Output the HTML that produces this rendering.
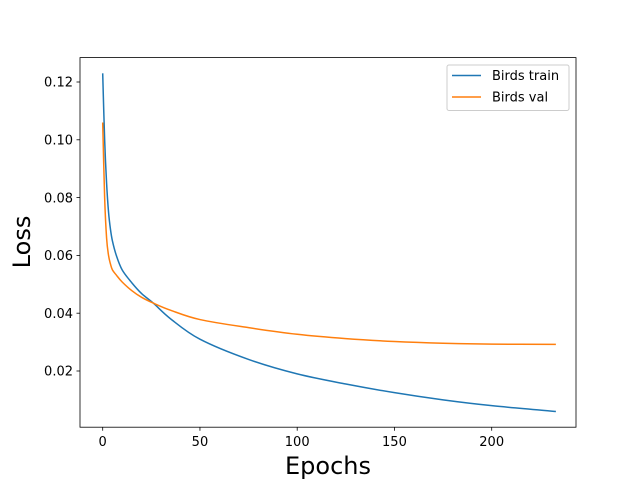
<!DOCTYPE html>
<html><head><meta charset="utf-8"><style>
body{margin:0;background:#fff}
svg{font-family:"DejaVu Sans","Liberation Sans",sans-serif}
</style></head><body>
<svg id="chart" width="640" height="480" viewBox="0 0 640 480">
<rect width="640" height="480" fill="#fff"/>
<g id="plot"></g>
<rect x="80" y="57.6" width="496" height="369.6" fill="none" stroke="#000" stroke-width="0.8"/>
<text x="328" y="474" font-size="24" text-anchor="middle">Epochs</text>
<text transform="translate(30,242) rotate(-90)" font-size="24" text-anchor="middle">Loss</text>
<g>
<rect x="447" y="65" width="122" height="45.5" rx="2" fill="#fff" fill-opacity="0.8" stroke="#ccc" stroke-width="1"/>
<line x1="452" y1="75.5" x2="481" y2="75.5" stroke="#1f77b4" stroke-width="1.5"/>
<text x="492" y="80" font-size="13">Birds train</text>
<line x1="452" y1="97" x2="481" y2="97" stroke="#ff7f0e" stroke-width="1.5"/>
<text x="492" y="101.5" font-size="13">Birds val</text>
</g>
</svg>
<script>
const epochs = [0,1,2,3,4,5,7,10,15,20,26,35,50,75,100,125,150,175,200,233];
const trainLoss = [0.123,0.100,0.085,0.075,0.069,0.065,0.060,0.055,0.0505,0.0468,0.0435,0.038,0.031,0.024,0.019,0.0155,0.0125,0.010,0.008,0.006];
const valLoss = [0.106,0.080,0.066,0.060,0.057,0.055,0.0532,0.0508,0.0478,0.0455,0.0435,0.041,0.0378,0.0350,0.0327,0.0312,0.0302,0.0296,0.0293,0.0292];
const xTicks = [0,50,100,150,200];
const yTicks = [0.02,0.04,0.06,0.08,0.10,0.12];
const yTickLabels = ["0.02","0.04","0.06","0.08","0.10","0.12"];

const NS="http://www.w3.org/2000/svg";
const g=document.getElementById('plot');
const X=v=>102.7+v*1.945;
const Y=v=>371-(v-0.02)*2890;
function mk(tag,attrs){const e=document.createElementNS(NS,tag);for(const k in attrs)e.setAttribute(k,attrs[k]);g.appendChild(e);return e;}
xTicks.forEach(t=>{
  const l=mk('line',{x1:X(t),x2:X(t),y1:427.2,y2:430.7,stroke:'#000','stroke-width':0.8});
  
  
  const s=mk('text',{x:X(t),y:446,'font-size':13,'text-anchor':'middle'});s.textContent=t;
  
  
});
yTicks.forEach((t,i)=>{
  const l=mk('line',{x1:76.5,x2:80,y1:Y(t),y2:Y(t),stroke:'#000','stroke-width':0.8});
  
  
  const s=mk('text',{x:73,y:Y(t)+4.7,'font-size':13,'text-anchor':'end'});s.textContent=yTickLabels[i];
  
  
});
function path(vals){
  const p=epochs.map((e,i)=>[X(e),Y(vals[i])]);
  let d='M'+p[0][0]+','+p[0][1];
  for(let i=0;i<p.length-1;i++){
    const p0=p[Math.max(i-1,0)],p1=p[i],p2=p[i+1],p3=p[Math.min(i+2,p.length-1)];
    const c1=[p1[0]+(p2[0]-p0[0])/6,p1[1]+(p2[1]-p0[1])/6];
    const c2=[p2[0]-(p3[0]-p1[0])/6,p2[1]-(p3[1]-p1[1])/6];
    d+=' C'+c1+' '+c2+' '+p2;
  }
  return d;
}
const tr=mk('path',{d:path(trainLoss),fill:'none',stroke:'#1f77b4','stroke-width':1.5});


const va=mk('path',{d:path(valLoss),fill:'none',stroke:'#ff7f0e','stroke-width':1.5});


</script>
</body></html>
